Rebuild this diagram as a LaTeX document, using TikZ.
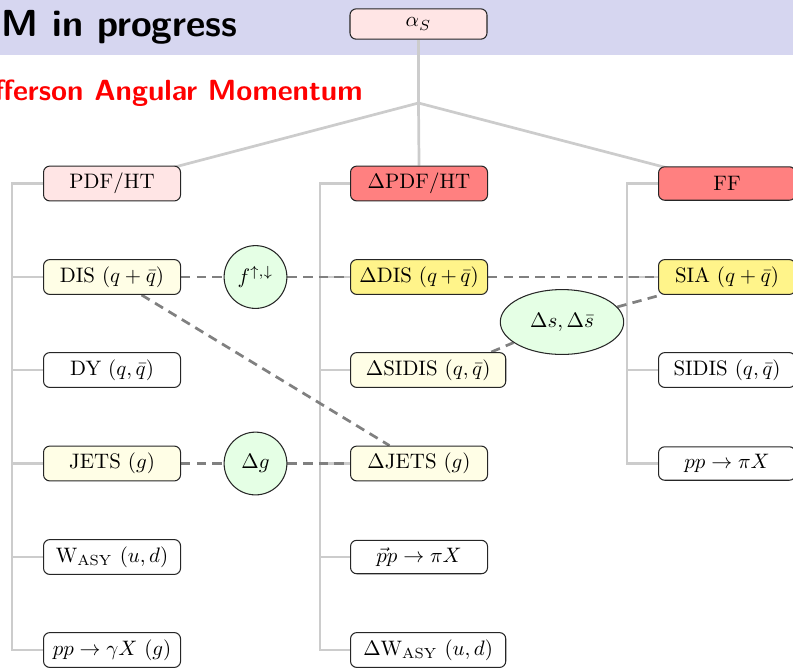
\documentclass[tikz,border=0pt]{standalone}
\usetikzlibrary{shapes.geometric,backgrounds}
\definecolor{hdr}{RGB}{214,214,240}
\definecolor{treegray}{RGB}{204,204,204}
\definecolor{dashgray}{RGB}{128,128,128}
\definecolor{ymid}{RGB}{255,244,138}
\pgfdeclarelayer{bottom}
\pgfsetlayers{bottom,background,main}
\tikzset{
  box/.style={draw=black!85, rounded corners=3pt, minimum width=65.5pt, minimum height=16pt,
    inner xsep=2pt, line width=0.5pt, anchor=west},
  pinkbox/.style={box, fill=red!10},
  redbox/.style={box, fill=red!50},
  lybox/.style={box, fill=yellow!10},
  ybox/.style={box, fill=ymid},
  wbox/.style={box, fill=white},
  hub/.style={circle, draw=black!85, line width=0.5pt, fill=green!10, minimum size=30pt, inner sep=0pt},
  hubell/.style={ellipse, draw=black!85, line width=0.5pt, fill=green!10, minimum width=59pt, minimum height=31pt, inner sep=0pt},
  tree/.style={draw=treegray, line width=1.3pt},
  link/.style={draw=dashgray, line width=1.3pt, dash pattern=on 4.5pt off 3pt},
}
\begin{document}
\begin{tikzpicture}[x=0.478pt,y=-0.478pt]
\useasboundingbox (0,0) rectangle (793,669);
\begin{pgfonlayer}{bottom}
\fill[hdr] (0,0) rectangle (793,55);
\end{pgfonlayer}
\node[anchor=base east, inner sep=0pt, font=\fontsize{18}{21}\selectfont\sffamily\bfseries] (title) at (238,36) {M in progress};
\node[anchor=base east, inner sep=0pt, text=red, font=\fontsize{13.95}{16}\selectfont\sffamily\bfseries] (sub) at (363,100) {fferson Angular Momentum};
% top
\node[pinkbox, minimum height=14.5pt, anchor=center] (as) at (418.5,24) {$\alpha_S$};
\coordinate (J) at (418.5,103);
% column 1
\node[pinkbox] (pdf) at (43,183.5) {PDF/HT};
\node[lybox] (dis) at (43,277) {DIS $(q+\bar q)$};
\node[wbox] (dy) at (43,370) {DY $(q,\bar q)$};
\node[lybox] (jets) at (43,463.5) {JETS $(g)$};
\node[wbox] (wasy) at (43,557) {W$_{\mathrm{ASY}}$ $(u,d)$};
\node[wbox] (ppg) at (43,650) {$pp\to\gamma X$ $(g)$};
% column 2
\node[redbox] (dpdf) at (350,183.5) {$\Delta$PDF/HT};
\node[ybox] (ddis) at (350,277) {$\Delta$DIS $(q\,{+}\,\bar q)$};
\node[lybox, minimum width=74.2pt] (dsidis) at (350,370) {$\Delta$SIDIS $(q,\bar q)$};
\node[lybox] (djets) at (350,463.5) {$\Delta$JETS $(g)$};
\node[wbox] (pip) at (350,557) {$\vec p p\to\pi X$};
\node[wbox, minimum width=74.2pt] (dwasy) at (350,650) {$\Delta$W$_{\mathrm{ASY}}$ $(u,d)$};
% column 3
\node[redbox] (ff) at (658,183.5) {FF};
\node[ybox] (sia) at (658,277) {SIA $(q+\bar q)$};
\node[wbox] (sidis) at (658,370) {SIDIS $(q,\bar q)$};
\node[wbox] (pppi) at (658,463.5) {$pp\to\pi X$};
% hubs
\node[hub] (f) at (255.5,277) {$f^{\uparrow,\downarrow}$};
\node[hub] (g) at (255.5,463.5) {$\Delta g$};
\node[hubell] (s) at (562,322) {$\Delta s,\Delta\bar s$};
\begin{pgfonlayer}{background}
\draw[tree] (as.south) -- (J);
\draw[tree] (J) -- (pdf.center);
\draw[tree] (J) -- (dpdf.north);
\draw[tree] (J) -- (ff.center);
\foreach \c in {dis,dy,jets,wasy,ppg} \draw[tree] (pdf.west) -- ++(-31,0) |- (\c.west);
\foreach \c in {ddis,dsidis,djets,pip,dwasy} \draw[tree] (dpdf.west) -- ++(-30,0) |- (\c.west);
\foreach \c in {sia,sidis,pppi} \draw[tree] (ff.west) -- ++(-31,0) |- (\c.west);
\draw[link] (dis) -- (f) -- (ddis) -- (sia);
\draw[link] (jets) -- (g) -- (djets);
\draw[link] (dis) -- (djets);
\draw[link] (dsidis.north east) ++(-15,0) -- (s);
\draw[link] (s) -- (sia);
\end{pgfonlayer}
\end{tikzpicture}
\end{document}
